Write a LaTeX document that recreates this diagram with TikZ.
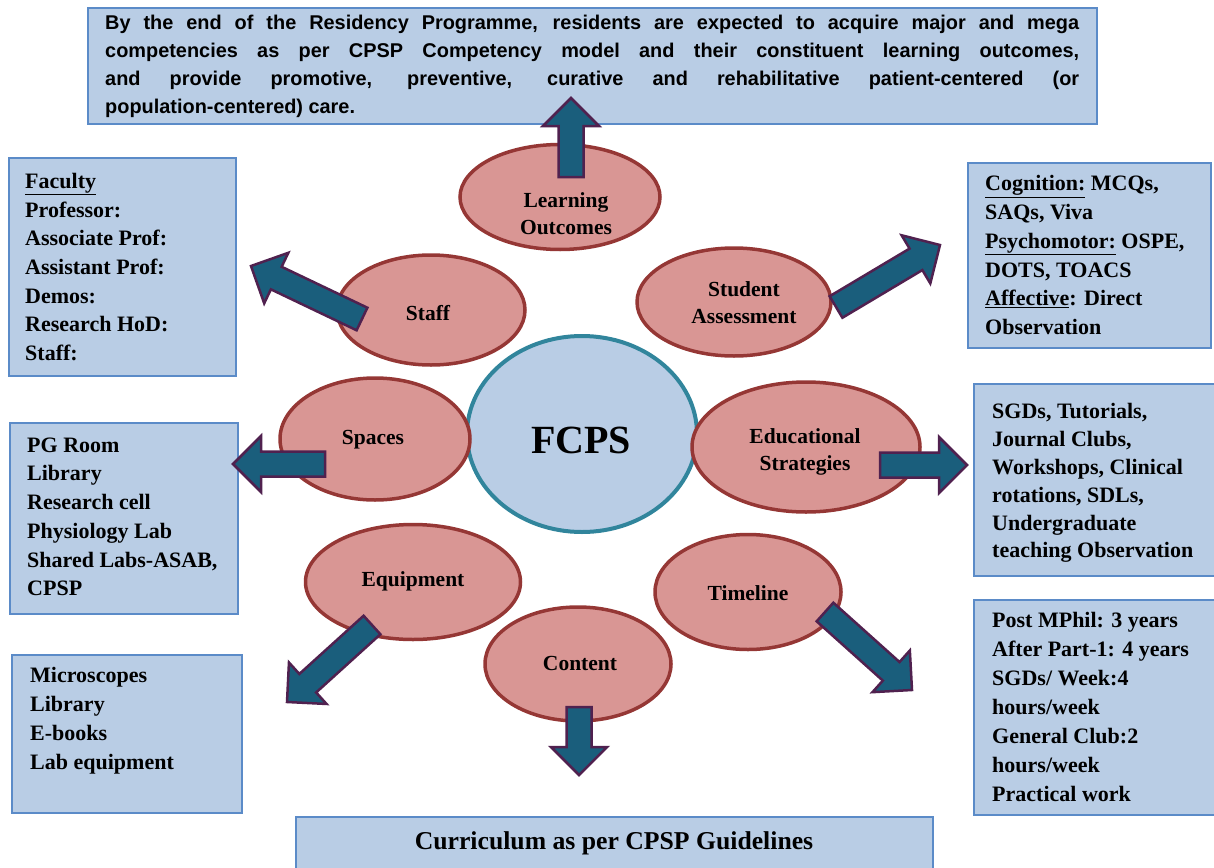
\documentclass[tikz,border=0pt]{standalone}
\usepackage{fontspec}
\setmainfont{Liberation Serif}
\newfontfamily\arialfont{Liberation Sans}
\usetikzlibrary{calc,shapes.geometric}
\definecolor{boxfill}{HTML}{B9CDE5}
\definecolor{boxline}{HTML}{5B8BC8}
\definecolor{ellfill}{HTML}{D99694}
\definecolor{ellline}{HTML}{953735}
\definecolor{circline}{HTML}{31859C}
\definecolor{arrfill}{HTML}{1A5E7C}
\definecolor{arrline}{HTML}{50214F}
\newcommand{\blockarr}[2]{%
  \coordinate (hb) at ($(#2)!28pt!(#1)$);
  \draw[barrow] ($(#1)!12.5pt!90:(#2)$) -- ($(hb)!12.5pt!-90:(#1)$) -- ($(hb)!28pt!-90:(#1)$) -- (#2)
    -- ($(hb)!28pt!90:(#1)$) -- ($(hb)!12.5pt!90:(#1)$) -- ($(#1)!12.5pt!-90:(#2)$) -- cycle;
}
\tikzset{
  bx/.style={draw=boxline, fill=boxfill, line width=1.6pt, inner sep=0pt, rectangle},
  ell/.style={ellipse, draw=ellline, fill=ellfill, line width=3.5pt, inner sep=0pt},
  circ/.style={ellipse, draw=circline, fill=boxfill, line width=4pt, inner sep=0pt},
  barrow/.style={fill=arrfill, draw=arrline, line width=2.5pt, line join=miter},
  boxtxt/.style={anchor=north west, inner sep=0pt, align=left, font=\bfseries\fontsize{22}{28.7}\selectfont},
  elltxt/.style={inner sep=0pt, align=center, font=\bfseries\fontsize{21.5}{27}\selectfont},
}
\begin{document}
\begin{tikzpicture}[x=1pt,y=-1pt]
\useasboundingbox (0,0) rectangle (1214,867);
% boxes
\node[bx, minimum width=1009pt, minimum height=116pt] (topbox) at (592.5,66) {};
\node[bx, minimum width=227pt, minimum height=218pt] (facbox) at (122.5,267) {};
\node[bx, minimum width=243pt, minimum height=185pt] (cogbox) at (1089.5,255.5) {};
\node[bx, minimum width=242pt, minimum height=192pt] (edbox) at (1095,480) {};
\node[bx, minimum width=228pt, minimum height=191pt] (pgbox) at (124,518.5) {};
\node[bx, minimum width=230pt, minimum height=158pt] (micbox) at (127,734) {};
\node[bx, minimum width=242pt, minimum height=215pt] (tlbox) at (1095,707.5) {};
\node[bx, minimum width=637pt, minimum height=63pt] (curbox) at (614.5,848.5) {};
% central circle and ellipses
\node[circ, minimum width=230pt, minimum height=196pt] (fcps) at (582,434) {};
\node[ell, minimum width=200pt, minimum height=105pt] (lo) at (560,197) {};
\node[ell, minimum width=188pt, minimum height=110pt] (staff) at (431,310) {};
\node[ell, minimum width=194pt, minimum height=108pt] (sa) at (734,302) {};
\node[ell, minimum width=190pt, minimum height=122pt] (spaces) at (375,439) {};
\node[ell, minimum width=228pt, minimum height=130pt] (edu) at (806,447) {};
\node[ell, minimum width=215pt, minimum height=115pt] (equip) at (413,582) {};
\node[ell, minimum width=186pt, minimum height=115pt] (tline) at (748,592) {};
\node[ell, minimum width=186pt, minimum height=114pt] (content) at (578,664) {};
% arrow end points
\coordinate (loT) at (571,177); \coordinate (loH) at (571,98);
\coordinate (stT) at (362,319); \coordinate (stH) at (251,266);
\coordinate (saT) at (836,307); \coordinate (saH) at (940,245);
\coordinate (edT) at (880,465); \coordinate (edH) at (967,465);
\coordinate (spT) at (325,464); \coordinate (spH) at (233,464);
\coordinate (eqT) at (372,625); \coordinate (eqH) at (287,702);
\coordinate (coT) at (579,707); \coordinate (coH) at (579,775);
\coordinate (tlT) at (825,612); \coordinate (tlH) at (912,690);
\blockarr{loT}{loH}
\blockarr{stT}{stH}
\blockarr{saT}{saH}
\blockarr{edT}{edH}
\blockarr{spT}{spH}
\blockarr{eqT}{eqH}
\blockarr{coT}{coH}
\blockarr{tlT}{tlH}
% texts
\node[anchor=north west, inner sep=0pt, text width=974pt, align=justify,
  font=\arialfont\bfseries\fontsize{19.9}{28}\selectfont] (toptxt) at (105,14.5)
  {By the end of the Residency Programme, residents are expected to acquire major and mega\linebreak
   competencies as per CPSP Competency model and their constituent learning outcomes,\linebreak
   and provide promotive, preventive, curative and rehabilitative patient-centered (or\linebreak
   population-centered) care.};
\node[elltxt] (loL) at (566,214) {Learning\\Outcomes};
\node[elltxt] (staffL) at (428,313) {Staff};
\node[elltxt] (saL) at (744,303) {Student\\Assessment};
\node[inner sep=0pt, font=\bfseries\fontsize{40}{40}\selectfont] (fcpsL) at (581,440) {FCPS};
\node[elltxt] (spL) at (373,440) {Spaces};
\node[elltxt] (eduL) at (805,452) {Educational\\Strategies};
\node[elltxt] (eqL) at (413,581) {Equipment};
\node[elltxt] (tlL) at (748,593) {Timeline};
\node[elltxt] (coL) at (580,663) {Content};
\node[boxtxt] (facT) at (25,173) {\underline{Faculty}\\Professor:\\Associate Prof:\\Assistant Prof:\\Demos:\\Research HoD:\\Staff:};
\node[boxtxt] (cogT) at (985,175.5) {\underline{Cognition:} MCQs,\\SAQs, Viva\\\underline{Psychomotor:} OSPE,\\DOTS, TOACS\\\underline{Affective}: Direct\\Observation};
\node[boxtxt, font=\bfseries\fontsize{22}{27.8}\selectfont] (edT2) at (992,403.5) {SGDs, Tutorials,\\Journal Clubs,\\Workshops, Clinical\\rotations, SDLs,\\Undergraduate\\teaching Observation};
\node[boxtxt] (pgT) at (27,437.5) {PG Room\\Library\\Research cell\\Physiology Lab\\Shared Labs-ASAB,\\CPSP};
\node[boxtxt] (micT) at (30,667.5) {Microscopes\\Library\\E-books\\Lab equipment};
\node[boxtxt, font=\bfseries\fontsize{22}{29}\selectfont] (tlT2) at (992,612.5) {Post MPhil: 3 years\\After Part-1: 4 years\\SGDs/ Week:4\\hours/week\\General Club:2\\hours/week\\Practical work};
\node[inner sep=0pt, font=\bfseries\fontsize{25.7}{26}\selectfont] (curT) at (614,843) {Curriculum as per CPSP Guidelines};
\end{tikzpicture}
\end{document}
